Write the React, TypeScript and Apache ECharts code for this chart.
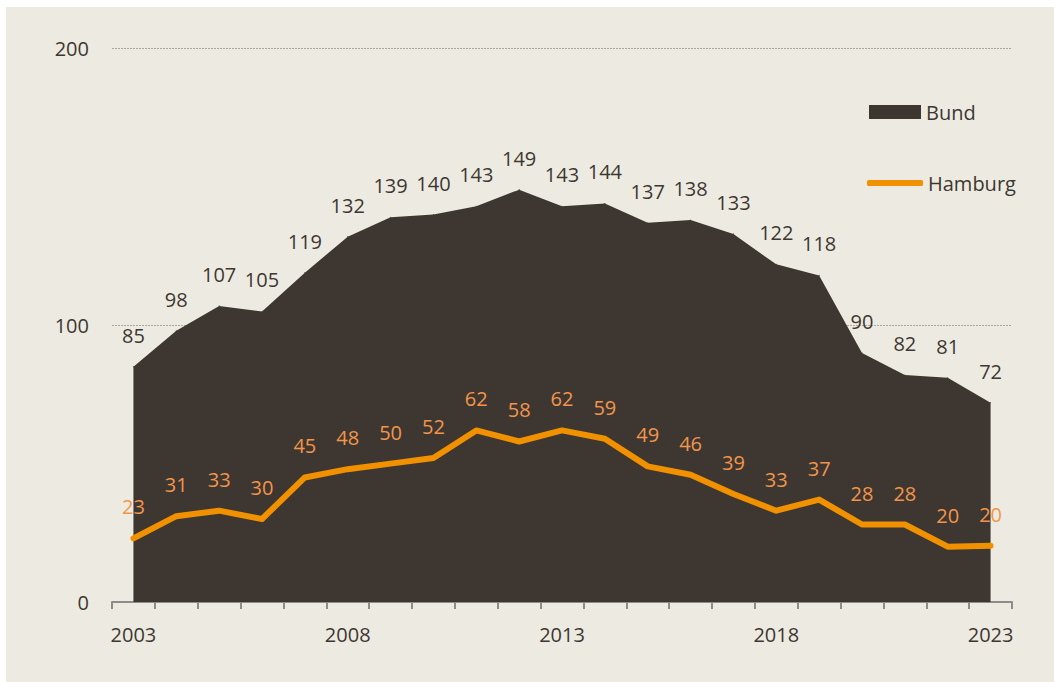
import React, { useEffect, useRef } from "react";
import * as echarts from "echarts";

const years = ["2003","2004","2005","2006","2007","2008","2009","2010","2011","2012","2013","2014","2015","2016","2017","2018","2019","2020","2021","2022","2023"];
const bund = [85, 98, 107, 105, 119, 132, 139, 140, 143, 149, 143, 144, 137, 138, 133, 122, 118, 90, 82, 81, 72];
const hamburg = [23, 31, 33, 30, 45, 48, 50, 52, 62, 58, 62, 59, 49, 46, 39, 33, 37, 28, 28, 20, 20.3];
const yTicks = [0, 100, 200];

const FONT = "'Open Sans', 'Noto Sans', sans-serif";
const DARK = "#3E3731";
const ORANGE = "#F29100";
const ORANGE_LABEL = "#F2954A";
const BG = "#EDEBE1";

export default function App() {
  const ref = useRef<HTMLDivElement>(null);
  useEffect(() => {
    if (!ref.current) return;
    const chart = echarts.init(ref.current, null, { renderer: "svg" });
    chart.setOption({
      animation: false,
      backgroundColor: BG,
      textStyle: { fontFamily: FONT },
      grid: { left: 106, right: 42, top: 41.5, bottom: 80 },
      legend: [
        {
          data: [{ name: "Bund", icon: "rect", itemStyle: { color: DARK, opacity: 1 } }],
          left: 863,
          top: 95,
          padding: 0,
          itemWidth: 52,
          itemHeight: 14,
          textStyle: { fontFamily: FONT, fontSize: 20, color: DARK, lineHeight: 20 },
          selectedMode: false,
        },
        {
          data: [{ name: "Hamburg", icon: "roundRect", itemStyle: { color: ORANGE, opacity: 1 } }],
          left: 861,
          top: 166,
          padding: 0,
          itemWidth: 56,
          itemHeight: 6,
          textStyle: { fontFamily: FONT, fontSize: 20, color: DARK, lineHeight: 20 },
          selectedMode: false,
        },
      ],
      xAxis: {
        type: "category",
        data: years,
        boundaryGap: true,
        axisLine: { show: true, lineStyle: { color: "#8C8C8C", width: 2 } },
        axisTick: { show: true, interval: 0, length: 7, lineStyle: { color: "#8C8C8C", width: 2 } },
        axisLabel: {
          interval: 4,
          margin: 22,
          fontFamily: FONT,
          fontSize: 20,
          lineHeight: 20,
          color: DARK,
        },
        splitLine: { show: false },
      },
      yAxis: {
        type: "value",
        min: yTicks[0],
        max: yTicks[yTicks.length - 1],
        interval: 100,
        axisLine: { show: false },
        axisTick: { show: false },
        axisLabel: { margin: 23, fontFamily: FONT, fontSize: 20, color: DARK },
        splitLine: { show: true, lineStyle: { color: "#A8A8A0", type: [2, 1], width: 1 } },
      },
      series: [
        {
          name: "Bund",
          type: "line",
          data: bund,
          symbol: "circle",
          symbolSize: 1,
          showSymbol: true,
          lineStyle: { width: 0, color: DARK },
          itemStyle: { color: DARK },
          areaStyle: { color: DARK, opacity: 1 },
          label: {
            show: true,
            position: "top",
            distance: 21,
            fontFamily: FONT,
            fontSize: 20,
            lineHeight: 20,
            color: DARK,
          },
          z: 1,
        },
        {
          name: "Hamburg",
          type: "line",
          data: hamburg,
          symbol: "circle",
          symbolSize: 1,
          showSymbol: true,
          lineStyle: { width: 6, color: ORANGE, join: "round", cap: "round" },
          itemStyle: { color: ORANGE },
          label: {
            show: true,
            position: "top",
            distance: 21,
            fontFamily: FONT,
            fontSize: 20,
            lineHeight: 20,
            color: ORANGE_LABEL,
            formatter: (p: any) => String(Math.round(p.value)),
          },
          z: 2,
        },
      ],
    });
    return () => chart.dispose();
  }, []);
  return (
    <div
      ref={ref}
      style={{ position: "fixed", left: 6, top: 7, width: 1048, height: 675 }}
    />
  );
}
